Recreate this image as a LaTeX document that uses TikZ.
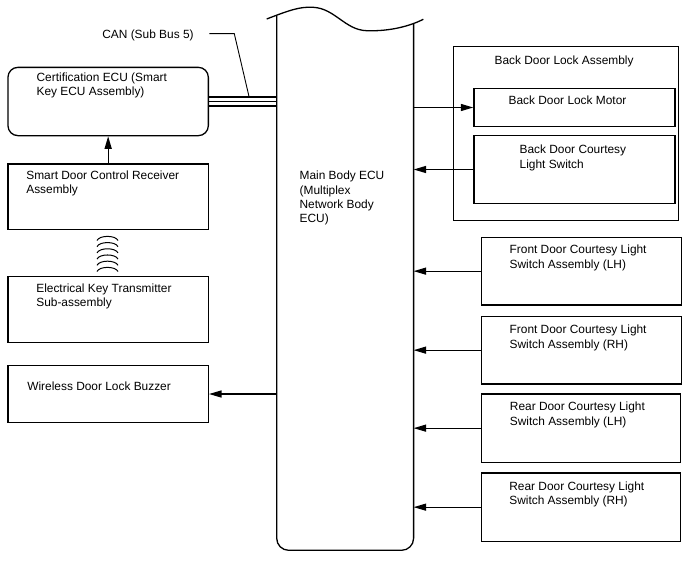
\documentclass[tikz,border=0pt]{standalone}
\usepackage{fontspec}
\setmainfont{Liberation Sans}
\usetikzlibrary{positioning, arrows.meta}

\begin{document}
\begin{tikzpicture}[x=1pt,y=-1pt,>={Triangle[length=12.5pt,width=7pt]},line width=1.3pt,
    font=\fontsize{11.9}{14.3}\selectfont,
    box/.style={draw,rectangle,anchor=north west,inner sep=0pt},
    lbl/.style={inner sep=0pt,align=left},
    bus/.style={line width=2.3pt}]
    \useasboundingbox (0,0) rectangle (688,560);

    % Left column
    \node[box,rounded corners=10pt,minimum width=200.4pt,minimum height=68.3pt] (cert) at (7.3,66.7) {};
    \node[box,minimum width=200.4pt,minimum height=65.7pt] (sdcr) at (7.3,163.3) {};
    \node[box,minimum width=200.4pt,minimum height=65.7pt] (ekt) at (7.3,276) {};
    \node[box,minimum width=200.4pt,minimum height=56.7pt] (buzz) at (7.3,365) {};
    \node[lbl,below right=5.6pt and 28.7pt of cert.north west] {Certification ECU (Smart\\Key ECU Assembly)};
    \node[lbl,below right=6.6pt and 18.4pt of sdcr.north west] {Smart Door Control Receiver\\Assembly};
    \node[lbl,below right=7.3pt and 28.4pt of ekt.north west] {Electrical Key Transmitter\\Sub-assembly};
    \node[lbl,below right=16.6pt and 19.4pt of buzz.north west] {Wireless Door Lock Buzzer};

    % Main Body ECU
    \node[inner sep=0pt,anchor=north west,minimum width=135.6pt,minimum height=530pt] (ecu) at (276.7,19) {};
    \draw[rounded corners=12pt] ([yshift=3.3pt]ecu.north west) -- (ecu.south west) -- (ecu.south east) -- ([yshift=-5pt]ecu.north east);
    \draw (266.7,19) .. controls (290,10) and (300,6.5) .. (313.3,7.3)
          .. controls (335,8.5) and (345,30) .. (366.7,30.7)
          .. controls (390,31.5) and (410,26) .. (423.3,19.3);
    \node[lbl,below right=151.6pt and 22.3pt of ecu.north west] {Main Body ECU\\(Multiplex\\Network Body\\ECU)};

    % Right column
    \node[box,minimum width=225.3pt,minimum height=174pt] (bdla) at (452.7,46) {};
    \node[box,minimum width=201pt,minimum height=38.3pt] (motor) at (473.3,87.7) {};
    \node[box,minimum width=201pt,minimum height=67.7pt] (bdsw) at (473.3,135) {};
    \node[box,minimum width=200pt,minimum height=67.6pt] (fdlh) at (480.7,236.7) {};
    \node[box,minimum width=200pt,minimum height=67.6pt] (fdrh) at (480.7,315.7) {};
    \node[box,minimum width=199.3pt,minimum height=68.4pt] (rdlh) at (480.7,393.3) {};
    \node[box,minimum width=199.3pt,minimum height=68.4pt] (rdrh) at (480.7,472.3) {};
    \node[lbl,below right=9.6pt and 41.3pt of bdla.north west] {Back Door Lock Assembly};
    \node[lbl,below right=7.9pt and 34.7pt of motor.north west] {Back Door Lock Motor};
    \node[lbl,below right=9.6pt and 45.7pt of bdsw.north west] {Back Door Courtesy\\Light Switch};
    \node[lbl,below right=7.9pt and 28.3pt of fdlh.north west] {Front Door Courtesy Light\\Switch Assembly (LH)};
    \node[lbl,below right=8.9pt and 28.3pt of fdrh.north west] {Front Door Courtesy Light\\Switch Assembly (RH)};
    \node[lbl,below right=8.3pt and 28.6pt of rdlh.north west] {Rear Door Courtesy Light\\Switch Assembly (LH)};
    \node[lbl,below right=9pt and 28pt of rdrh.north west] {Rear Door Courtesy Light\\Switch Assembly (RH)};

    % CAN
    \node[lbl,anchor=north west] (can) at (101.7,28.9) {CAN (Sub Bus 5)};
    \coordinate (c1) at ([yshift=4.4pt]cert.east);
    \coordinate (c2) at (cert.east);
    \coordinate (c3) at ([yshift=-4.5pt]cert.east);
    \draw[bus] (c1) -- (c1 -| ecu.west);
    \draw[line width=1.6pt] (c2) -- (c2 -| ecu.west);
    \draw[bus] (c3) -- (c3 -| ecu.west);
    \coordinate (canpt) at (249,96.5);
    \draw[line width=0.9pt] ([xshift=15pt,yshift=1.5pt]can.east) -- ++(25,0) -- (canpt);

    % wireless link
    \foreach \y in {235,241.2,247.4,253.6,259.8,266}
        \draw[line width=1pt] (97,\y+5.5) .. controls (99.5,\y) and (115.5,\y) .. (118,\y+5.5);

    % connections
    \draw[->] (sdcr.north) -- (cert.south);
    \draw[->] (ecu.west |- buzz.east) -- (buzz.east);
    \draw[->] (ecu.east |- motor.west) -- (motor.west);
    \draw[->] (bdsw.west) -- (ecu.east |- bdsw.west);
    \draw[->] (fdlh.west) -- (ecu.east |- fdlh.west);
    \draw[->] (fdrh.west) -- (ecu.east |- fdrh.west);
    \draw[->] (rdlh.west) -- (ecu.east |- rdlh.west);
    \draw[->] (rdrh.west) -- (ecu.east |- rdrh.west);
\end{tikzpicture}
\end{document}
